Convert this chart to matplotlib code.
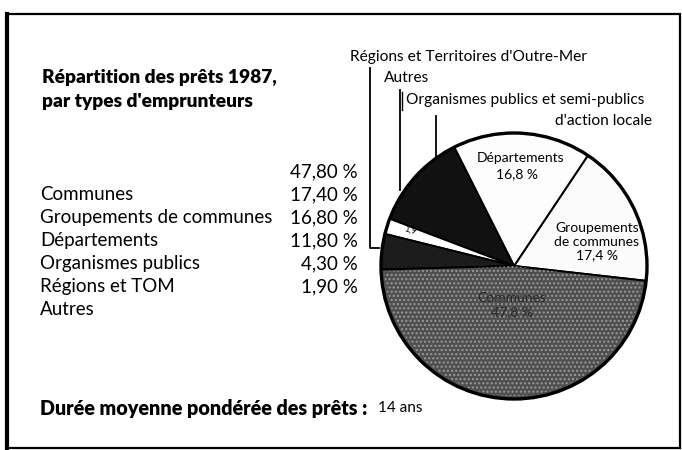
import numpy as np
import matplotlib
matplotlib.use("Agg")
import matplotlib.pyplot as plt
from matplotlib.patches import Wedge, Rectangle

plt.rcParams['font.family'] = ['Lato', 'DejaVu Sans']

# data
table_labels = ['', 'Communes', 'Groupements de communes', 'Départements',
                'Organismes publics', 'Régions et TOM', 'Autres']
table_values = ['47,80 %', '17,40 %', '16,80 %', '11,80 %', '4,30 %', '1,90 %', '']

# pie slices, counterclockwise from the right
slice_names = ['Groupements de communes', 'Départements', 'Organismes publics',
               'Autres', 'Régions et TOM', 'Communes']
slice_values = [17.4, 16.8, 11.8, 1.9, 4.3, 47.8]
slice_colors = ['#fbfbfb', '#fdfdfd', '#111111', '#ffffff', '#1c1c1c', '#4f4f4f']

W, H = 682, 450
fig = plt.figure(figsize=(W / 100, H / 100), dpi=100)
ax = fig.add_axes([0, 0, 1, 1])


def Y(y):
    # pixel row from top -> data y
    return H - y


# pie
cx, cy, r = 514, Y(266), 133
wedges, _ = ax.pie(slice_values, colors=slice_colors, startangle=-6.4,
                   counterclock=True, center=(cx, cy), radius=r,
                   wedgeprops=dict(edgecolor='black', linewidth=1.4))
ax.set_xlim(0, W)
ax.set_ylim(0, H)
ax.set_aspect('equal')
ax.axis('off')
ax.add_patch(plt.Circle((cx, cy), r, fill=False, ec='black', lw=2.4))

# speckled texture on the communes slice
wc = wedges[-1]
ax.add_patch(Wedge((cx, cy), r - 3, wc.theta1 + 1, wc.theta2 - 1,
                   facecolor='none', edgecolor='#9a9a9a', hatch='....', lw=0))

# frame
ax.add_patch(Rectangle((7, Y(448)), 673, 434, fill=False, ec='black', lw=1.6))
ax.plot([7, 7], [Y(14), Y(448)], color='black', lw=3)

# labels inside the pie
ax.text(521, Y(158), 'Départements', ha='center', va='center', fontsize=10)
ax.text(517, Y(174), '16,8 %', ha='center', va='center', fontsize=10)
ax.text(597, Y(242), 'Groupements\nde communes\n17,4 %', ha='center',
        va='center', fontsize=10, linespacing=1.15)
ax.text(512, Y(305), 'Communes\n47,8 %', ha='center', va='center',
        fontsize=10, color='#2a2a2a', linespacing=1.2)
ax.text(410, Y(230), '1,9', ha='center', va='center', fontsize=6.5,
        rotation=-17)

# leader lines and their labels
ax.text(350, Y(57), "Régions et Territoires d'Outre-Mer", ha='left',
        va='center', fontsize=11.2)
ax.text(384, Y(78), 'Autres', ha='left', va='center', fontsize=11.2)
ax.text(406, Y(100), 'Organismes publics et semi-publics', ha='left',
        va='center', fontsize=11.2)
ax.text(652, Y(121), "d'action locale", ha='right', va='center', fontsize=11.2)
ax.plot([370, 370, 379], [Y(68), Y(248), Y(248)], color='black', lw=1.3)
ax.plot([400, 400], [Y(90), Y(190)], color='black', lw=1.3)
ax.plot([402, 402], [Y(92), Y(110)], color='black', lw=1.0)
ax.plot([436, 436], [Y(116), Y(157)], color='black', lw=1.3)

# title
ax.text(42, Y(77), 'Répartition des prêts 1987,', ha='left', va='center',
        fontsize=13.8, fontweight='heavy')
ax.text(42, Y(101), "par types d'emprunteurs", ha='left', va='center',
        fontsize=13.8, fontweight='heavy')

# table
row_y = 172
for lab, val in zip(table_labels, table_values):
    if lab:
        ax.text(40, Y(row_y), lab, ha='left', va='center', fontsize=13.5)
    if val:
        ax.text(358, Y(row_y), val, ha='right', va='center', fontsize=13.5)
    row_y += 22.9

# footer
ax.text(40, Y(408), 'Durée moyenne pondérée des prêts :', ha='left',
        va='center', fontsize=14.2, fontweight='heavy')
ax.text(378, Y(408), '14 ans', ha='left', va='center', fontsize=11)

fig.savefig('out.png', dpi=100)
